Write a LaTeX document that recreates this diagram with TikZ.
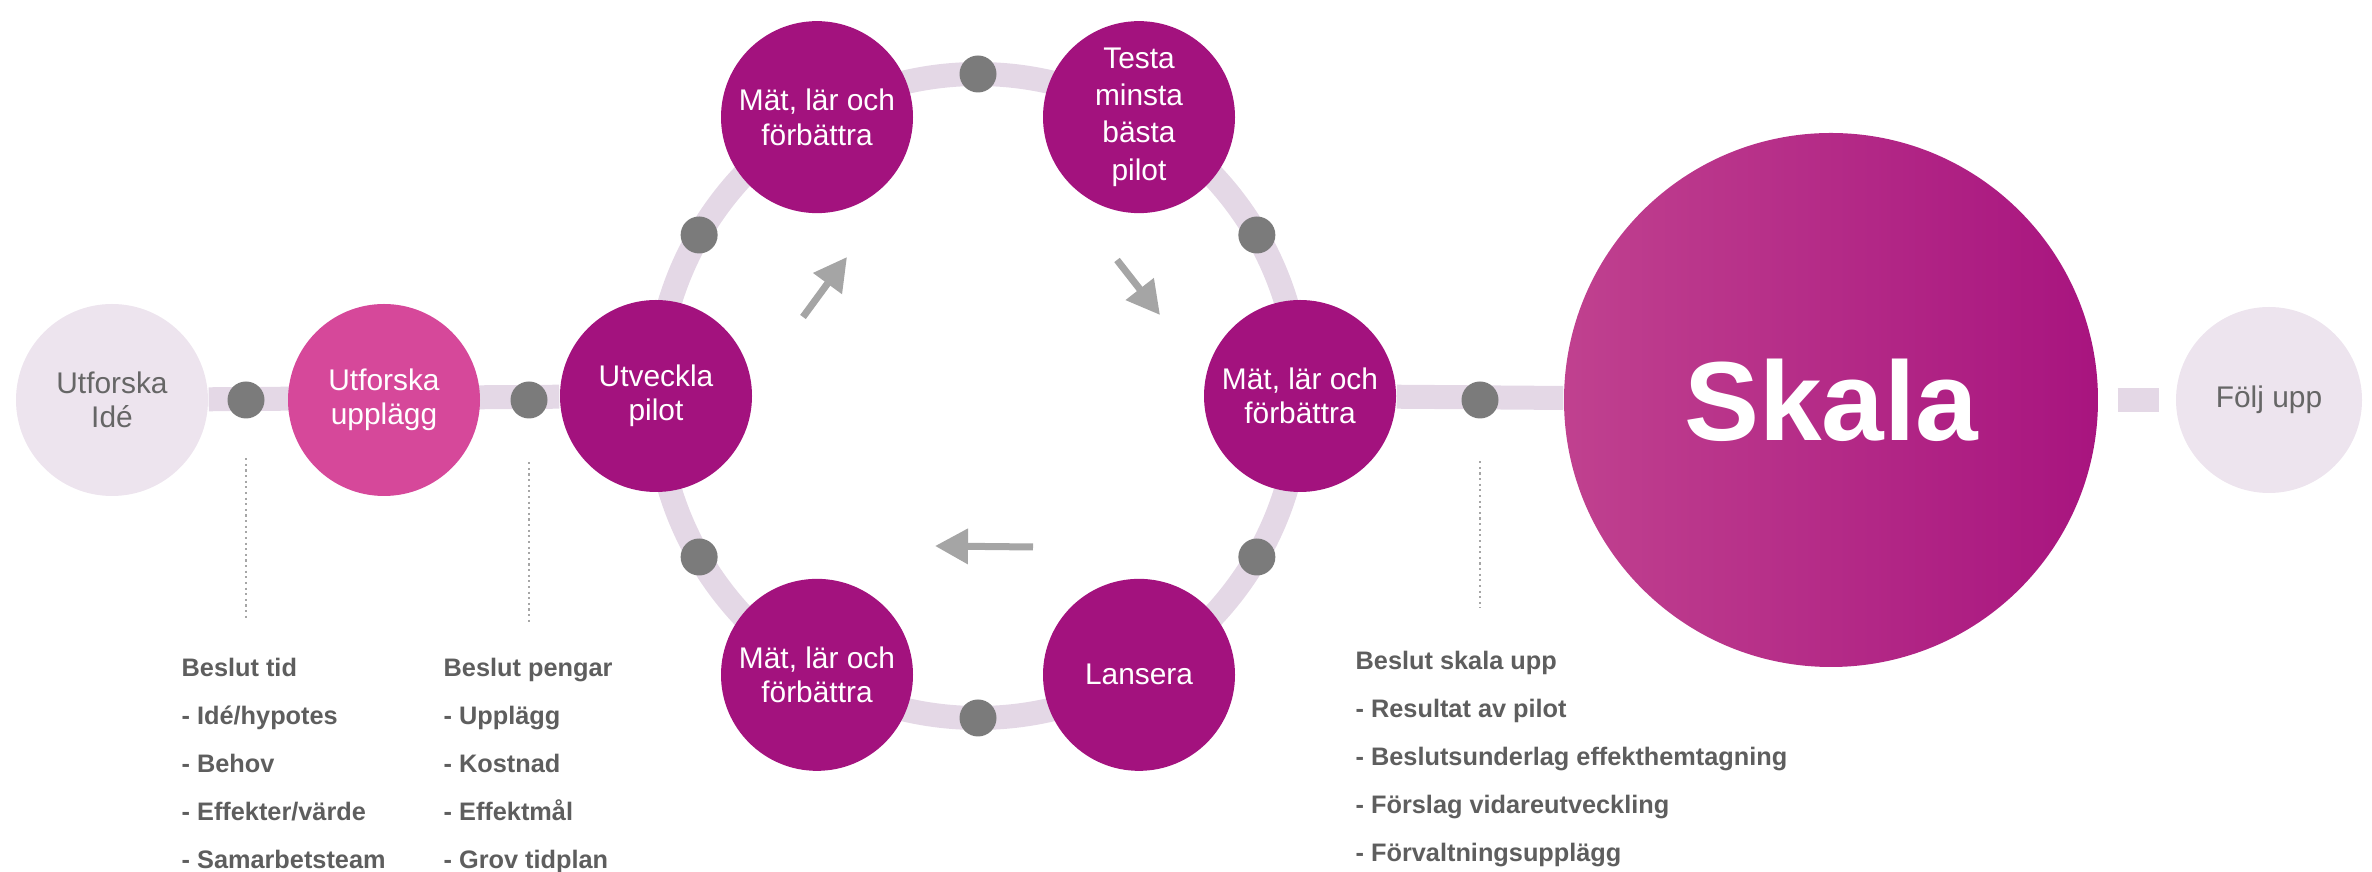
\documentclass[tikz,border=0pt]{standalone}
\usepackage{fontspec}
\setmainfont{Liberation Sans}
\usetikzlibrary{arrows.meta,calc}

\pgfdeclarelayer{bg}
\pgfsetlayers{bg,main}

\definecolor{lavender}{HTML}{EDE4EE}
\definecolor{barcol}{HTML}{E4D8E6}
\definecolor{pinkc}{HTML}{D6489A}
\definecolor{magentac}{HTML}{A3127E}
\definecolor{skalaleft}{HTML}{C0418F}
\definecolor{skalaright}{HTML}{A8147F}
\definecolor{dotgray}{HTML}{7B7B7B}
\definecolor{textgray}{HTML}{666666}
\definecolor{notegray}{HTML}{5E5E5E}
\definecolor{arrowgray}{HTML}{A5A5A5}

\tikzset{
    bubble/.style={circle, minimum size=1.92cm, inner sep=0pt, align=center,
        font=\fontsize{8.5}{9.8}\selectfont},
    cyclestep/.style={bubble, fill=magentac, text=white},
    pale/.style={bubble, fill=lavender, text=textgray},
    pin/.style={circle, fill=dotgray, minimum size=0.37cm, inner sep=0pt},
    bar/.style={draw=barcol, line width=0.24cm},
    flow/.style={draw=arrowgray, line width=0.7mm, -{Triangle[length=3.3mm,width=3.4mm]}},
    decision/.style={draw=gray!70, densely dotted, line width=0.6pt},
    notes/.style={align=left, text=notegray, inner sep=0pt, anchor=base west,
        font=\bfseries\fontsize{7.2}{13.66}\selectfont}
}

\begin{document}
\begin{tikzpicture}

    \useasboundingbox (0,0) rectangle (23.72,8.72);

    %Explore stage
    \node[pale] (ide) at (1.12,4.72) {Utforska\\Idé};
    \node[pin] (dot1) at (2.46,4.72) {};
    \node[bubble, fill=pinkc, text=white] (upplagg) at (3.84,4.72) {Utforska\\upplägg};
    \node[pin] (dot2) at (5.29,4.72) {};

    %Pilot cycle
    \coordinate (ring) at (9.78,4.76);
    \node[cyclestep] (utveckla) at ($(ring)+(180:3.22)$) {Utveckla\\pilot};
    \node[cyclestep] (matTL) at ($(ring)+(120:3.22)$) {Mät, lär och\\förbättra};
    \node[cyclestep, font=\fontsize{8.5}{10.6}\selectfont] (testa) at ($(ring)+(60:3.22)$)
        {Testa\\minsta\\bästa\\pilot};
    \node[cyclestep] (matR) at ($(ring)+(0:3.22)$) {Mät, lär och\\förbättra};
    \node[cyclestep] (lansera) at ($(ring)+(-60:3.22)$) {Lansera};
    \node[cyclestep] (matBL) at ($(ring)+(-120:3.22)$) {Mät, lär och\\förbättra};
    \foreach \a in {150,90,30,-30,-90,-150}
        \node[pin] (ringdot\a) at ($(ring)+(\a:3.22)$) {};

    %direction of the cycle
    \coordinate (a1s) at (8.03,5.55);
    \coordinate (a1e) at (8.47,6.15);
    \coordinate (a2s) at (11.17,6.12);
    \coordinate (a2e) at (11.60,5.57);
    \coordinate (a3s) at (10.33,3.25);
    \coordinate (a3e) at (9.35,3.26);
    \draw[flow] (a1s) -- (a1e);
    \draw[flow] (a2s) -- (a2e);
    \draw[flow] (a3s) -- (a3e);

    %Scale stage
    \node[pin] (dot3) at (14.80,4.72) {};
    \node[circle, minimum size=5.34cm, inner sep=0pt, left color=skalaleft, right color=skalaright,
        text=white, font=\bfseries\fontsize{32}{32}\selectfont] (skala) at (18.31,4.72) {Skala};
    \node[pale, minimum size=1.86cm] (folj) at (22.69,4.72) {Följ upp};

    %bars behind everything
    \begin{pgfonlayer}{bg}
        \draw[bar] (ide) -- (utveckla);
        \draw[bar] (matR) -- (skala);
        \draw[bar] (ring) circle (3.22);
        \draw[bar] ([xshift=1.9mm]skala.east) -- ([xshift=-1.6mm]folj.west);
    \end{pgfonlayer}

    %decision points
    \draw[decision] ([yshift=-3.9mm]dot1.south) -- ++(0,-1.63);
    \draw[decision] ([yshift=-4.3mm]dot2.south) -- ++(0,-1.61);
    \draw[decision] ([yshift=-4.2mm]dot3.south) -- ++(0,-1.47);

    %base anchor sits on the last line
    \node[notes] (tid) at (1.81,0.03)
        {Beslut tid\\- Idé/hypotes\\- Behov\\- Effekter/värde\\- Samarbetsteam};
    \node[notes] (pengar) at (4.43,0.03)
        {Beslut pengar\\- Upplägg\\- Kostnad\\- Effektmål\\- Grov tidplan};
    \node[notes] (skalaupp) at (13.55,0.10)
        {Beslut skala upp\\- Resultat av pilot\\- Beslutsunderlag effekthemtagning\\- Förslag vidareutveckling\\- Förvaltningsupplägg};

\end{tikzpicture}
\end{document}
